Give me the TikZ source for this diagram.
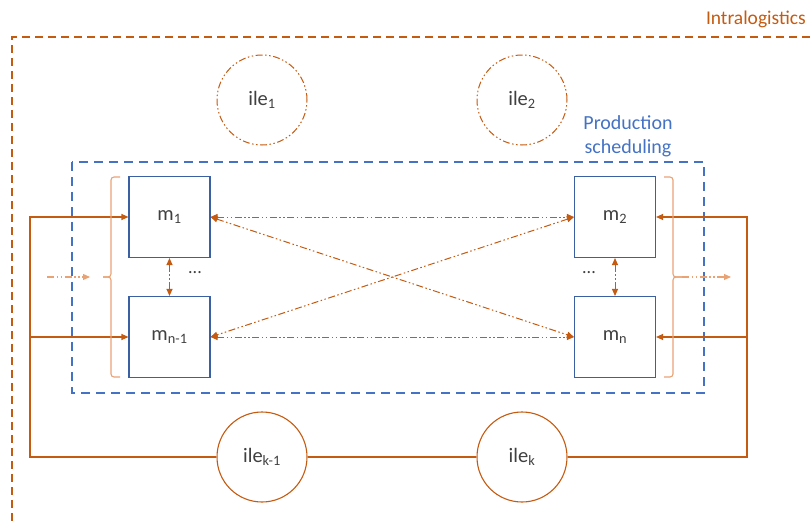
\documentclass[tikz,border=0pt]{standalone}
\usepackage{fontspec}
\setmainfont{Carlito}
\usetikzlibrary{arrows.meta,calc}
\definecolor{org}{HTML}{C55A11}
\definecolor{lorg}{HTML}{E9A274}
\definecolor{blu}{HTML}{4472C4}
\definecolor{boxb}{HTML}{3B5FA3}
\definecolor{txt}{HTML}{404040}
\tikzset{
  mbox/.style={draw=boxb,line width=1.1pt,minimum width=81pt,minimum height=81pt,inner sep=0pt,text=txt,font=\fontsize{20.5}{22}\selectfont},
  ilec/.style={circle,minimum size=90pt,inner sep=0pt,text=txt,font=\fontsize{20.5}{22}\selectfont},
  ddot/.style={dash pattern=on 7pt off 2.5pt on 1.5pt off 2.5pt on 1.5pt off 2.5pt},
  tip/.style={-{Triangle[length=7pt,width=6pt]}},
  dtip/.style={{Triangle[length=7pt,width=6pt]}-{Triangle[length=7pt,width=6pt]}},
  sol/.style={draw=org,line width=1.1pt},
  dd/.style={draw=org,line width=1pt,ddot},
}
\begin{document}
\begin{tikzpicture}[x=1pt,y=-1pt]
\useasboundingbox (0,0) rectangle (810,525);
% outer intralogistics
\draw[org,line width=2.4pt,dash pattern=on 8pt off 5pt] (810,37) -- (12,37) -- (12,525);
\node[anchor=south east,text=org,font=\fontsize{19.5}{21}\selectfont,inner sep=0pt] (intra) at (806,28) {Intralogistics};
% production scheduling
\draw[blu,line width=2.4pt,dash pattern=on 9pt off 6pt] (72,162) rectangle (704,393);
\node[text=blu,font=\fontsize{20}{24}\selectfont,align=center,inner sep=0pt] (ps) at (628,136) {Production\\scheduling};
% ile top
\node[ilec,draw=org,line width=1pt,ddot] (ile1) at (262,100) {ile\textsubscript{1}};
\node[ilec,draw=org,line width=1pt,ddot] (ile2) at (522,100) {ile\textsubscript{2}};
% machines
\node[mbox] (m1) at (169.5,217) {m\textsubscript{1}};
\node[mbox] (mn1) at (169.5,337) {m\textsubscript{n-1}};
\node[mbox] (m2) at (615,217) {m\textsubscript{2}};
\node[mbox] (mn) at (615,337) {m\textsubscript{n}};
\node[text=txt,font=\fontsize{18}{20}\selectfont,inner sep=0pt] (d1) at (195,273) {...};
\node[text=txt,font=\fontsize{18}{20}\selectfont,inner sep=0pt] (d2) at (589,273) {...};
% bottom ile
\node[ilec,draw=org,line width=1.1pt] (ilek1) at (262,457) {ile\textsubscript{k-1}};
\node[ilec,draw=org,line width=1.1pt] (ilek) at (522,457) {ile\textsubscript{k}};
% solid loop
\coordinate (L) at (30,457);
\coordinate (R) at (747,457);
\draw[sol,tip] (ilek1.west) -- (L) -- (L |- m1.west) -- (m1.west);
\draw[sol,tip] (L |- mn1.west) -- (mn1.west);
\draw[sol] (ilek1.east) -- (ilek.west);
\draw[sol,tip] (ilek.east) -- (R) -- (R |- m2.east) -- (m2.east);
\draw[sol,tip] (R |- mn.east) -- (mn.east);
% dash-dot connections
\draw[dd,dtip] (m1.east) -- (m2.west);
\draw[dd,dtip] (mn1.east) -- (mn.west);
\draw[dd,dtip] (m1.east) -- (mn.west);
\draw[dd,dtip] (m2.west) -- (mn1.east);
\draw[dd,dtip] (m1.south) -- (mn1.north);
\draw[dd,dtip] (m2.south) -- (mn.north);
% brackets
\draw[lorg,line width=1.1pt,rounded corners=3pt] (120,177) -- (111,177) -- (111,277) -- (103,277);
\draw[lorg,line width=1.1pt,rounded corners=3pt] (103,277) -- (111,277) -- (111,377) -- (120,377);
\draw[lorg,line width=1.1pt,rounded corners=3pt] (664,177) -- (673,177) -- (673,277) -- (682,277);
\draw[lorg,line width=1.1pt,rounded corners=3pt] (682,277) -- (673,277) -- (673,377) -- (664,377);
\coordinate (bl) at (90,277);
\coordinate (br) at (682,277);
\draw[lorg,line width=1.1pt,ddot,tip] (47,277) -- (bl);
\draw[lorg,line width=1.1pt,ddot,tip] (br) -- (731,277);
\end{tikzpicture}
\end{document}
